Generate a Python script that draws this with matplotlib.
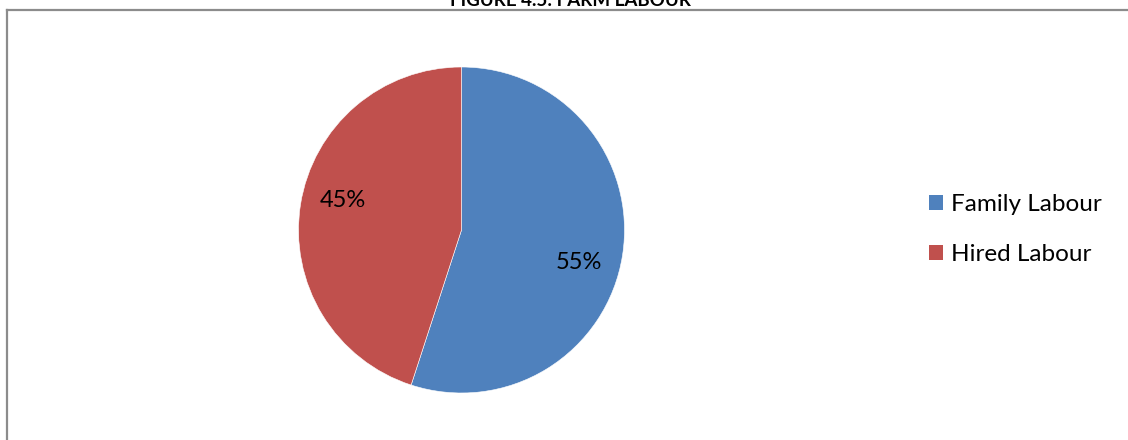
import matplotlib
matplotlib.use("Agg")
import matplotlib.pyplot as plt
from matplotlib.lines import Line2D
from matplotlib.patches import Patch

labels = ["Family Labour", "Hired Labour"]
shares = [55, 45]
colors = ["#4F81BD", "#C0504D"]
title = "FIGURE 4.5: FARM LABOUR"

plt.rcParams["font.family"] = ["Lato", "DejaVu Sans"]

W, H = 1128, 440
fig = plt.figure(figsize=(W / 100, H / 100), dpi=100)

# pie axes: centre (461, 230) px, radius 163 px
cx, cy, r = 461.5, 230, 163
ax = fig.add_axes([(cx - r) / W, (H - cy - r) / H, 2 * r / W, 2 * r / H])
wedges, texts, autotexts = ax.pie(
    shares, colors=colors, startangle=90, counterclock=False,
    autopct="%1.0f%%", pctdistance=0.75,
    wedgeprops=dict(edgecolor="white", linewidth=0.4),
    textprops=dict(fontsize=17, color="black"))
# data labels sit a little off the wedge bisector, like the original
autotexts[0].set_position((0.718, -0.202))
autotexts[1].set_position((-0.730, 0.184))
ax.set_xlim(-1, 1)
ax.set_ylim(-1, 1)
ax.set_aspect("equal")

# legend
handles = [Patch(facecolor=c, edgecolor="none") for c in colors]
fig.legend(handles, labels, loc="center left",
           bbox_to_anchor=(907 / W, 1 - 229.5 / H), frameon=False,
           fontsize=17.5, handlelength=0.6, handleheight=0.6,
           handletextpad=0.3, labelspacing=1.2)

# chart border (top and left visible)
fig.add_artist(Line2D([7 / W, 1], [1 - 10 / H, 1 - 10 / H], color="#8c8c8c", lw=1.6))
fig.add_artist(Line2D([7 / W, 7 / W], [0, 1 - 10 / H], color="#8c8c8c", lw=1.6))

# title mostly cut off at the top
fig.text(570 / W, 1 - 6 / H, title, ha="center", va="baseline",
         fontsize=13.5, fontweight="bold")

fig.savefig("out.png", dpi=100)
